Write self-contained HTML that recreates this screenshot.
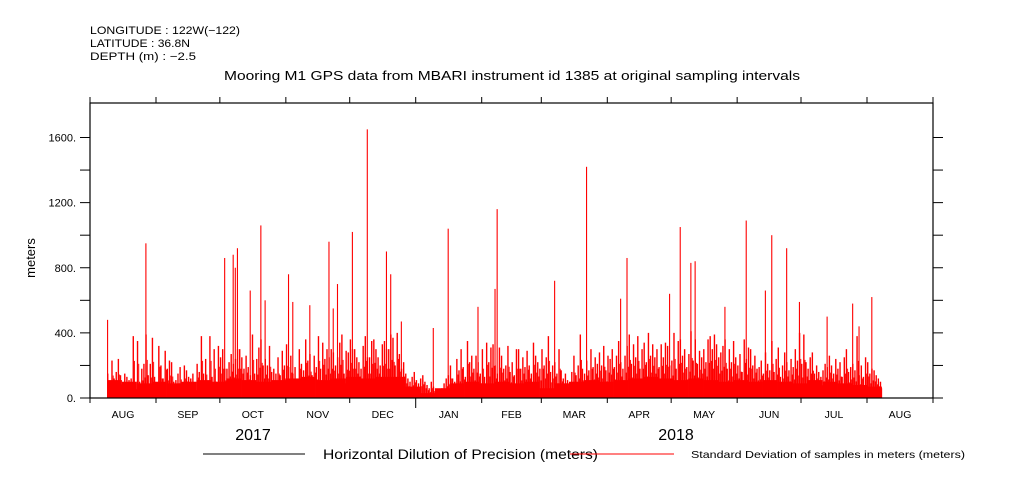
<!DOCTYPE html>
<html><head><meta charset="utf-8"><style>
html,body{margin:0;padding:0;background:#fff;}
svg{display:block;font-family:"Liberation Sans",sans-serif;}
</style></head><body>
<svg id="chart" width="1009" height="504" viewBox="0 0 1009 504">
<g font-size="11" fill="#000">
<text x="90" y="34" textLength="150" lengthAdjust="spacingAndGlyphs">LONGITUDE : 122W(−122)</text>
<text x="90" y="47" textLength="100" lengthAdjust="spacingAndGlyphs">LATITUDE : 36.8N</text>
<text x="90" y="60" textLength="106" lengthAdjust="spacingAndGlyphs">DEPTH (m) : −2.5</text>
</g>
<text x="224" y="80" textLength="576" lengthAdjust="spacingAndGlyphs" font-size="13">Mooring M1 GPS data from MBARI instrument id 1385 at original sampling intervals</text>
<text transform="translate(35,258) rotate(-90)" text-anchor="middle" font-size="13">meters</text>
<g id="marks"></g>
<g id="axes"></g>
<g>
<line x1="203" y1="454" x2="305" y2="454" stroke="#000" stroke-width="1"/>
<text x="323" y="459" font-size="13.5" textLength="275" lengthAdjust="spacingAndGlyphs">Horizontal Dilution of Precision (meters)</text>
<line x1="570" y1="454" x2="674" y2="454" stroke="#f00" stroke-width="1"/>
<text x="691" y="458" font-size="10.5" textLength="274" lengthAdjust="spacingAndGlyphs">Standard Deviation of samples in meters (meters)</text>
</g>
</svg>
<script>
const startDay = 8;
const baseValues = [
150,90,230,120,160,240,140,90,150,130,110,120,380,90,350,100,180,210,390,140,
210,370,130,60,320,200,120,290,180,230,220,100,110,150,190,90,200,170,130,120,
150,80,210,160,380,150,240,90,380,130,300,100,320,250,300,180,180,220,270,210,
240,300,300,250,180,260,190,140,390,150,240,310,360,200,240,200,320,160,180,150,
250,140,290,200,330,190,260,150,190,120,300,210,170,360,230,270,140,260,190,380,
180,340,240,300,250,300,280,200,250,340,390,150,290,280,360,300,300,250,220,180,
320,380,250,250,350,360,300,250,200,330,350,300,300,390,370,200,400,270,180,220,
150,120,100,130,160,110,90,120,140,100,80,60,100,70,40,50,30,60,90,120,
140,200,120,100,240,170,300,190,130,350,220,260,180,260,220,150,300,130,340,220,
310,330,200,150,310,260,180,200,320,160,220,140,300,300,180,250,190,290,200,150,
340,260,220,180,300,200,250,380,160,200,220,150,300,170,120,150,110,80,160,260,
140,200,390,180,150,230,170,300,190,250,210,280,200,320,170,260,240,300,190,260,
350,220,180,260,320,390,210,330,250,380,180,300,340,220,400,260,330,250,300,190,
330,250,340,320,200,230,400,180,350,360,260,300,190,270,410,230,360,210,290,250,
300,220,360,380,300,390,330,250,280,320,360,180,300,220,350,250,200,270,160,360,
240,310,300,200,260,180,190,230,150,280,210,170,350,160,240,310,130,200,280,220,
170,240,190,300,230,400,210,390,220,180,250,280,150,200,160,130,170,210,190,260,
200,150,240,180,220,130,250,300,160,190,210,170,380,140,200,130,250,220,150,180,
170,140,120,100];
const floorValues = [110,100,90,100,90,100,110,100,120,110,100,110,120,130,110,120,130,120,130,130,70,30,60,90,100,90,100,90,100,60,90,100,110,100,110,120,130,120,110,120,110,100,110,100,110,100,90,110,100,90,80,70];
const spikeDays = [8,26,63,67,68,69,75,80,82,93,95,103,112,114,116,123,130,139,141,146,161,168,182,190,191,218,233,249,252,272,277,282,284,298,308,317,320,327,333,346,358,361,367];
const spikeValues = [480,950,860,880,800,920,660,1060,600,760,590,570,960,550,700,1020,1650,900,760,470,430,1040,560,670,1160,720,1420,610,860,640,1050,830,840,560,1090,660,1000,920,590,500,580,440,620];
const yTicks = [0,200,400,600,800,1000,1200,1400,1600];
const yLabels = ["0.","","400.","","800.","","1200.","","1600."];
const monthNames = ["AUG","SEP","OCT","NOV","DEC","JAN","FEB","MAR","APR","MAY","JUN","JUL","AUG"];
const monthLengths = [31,30,31,30,31,31,28,31,30,31,30,31,31];
const yearLabels = ["2017","2018"];

const X0=90,X1=933,TOTAL=396,Y0=398,PPU=260.5/1600,YTOP=103;
const xs=d=>X0+d*(X1-X0)/TOTAL;
const ys=v=>Y0-v*PPU;
const NS="http://www.w3.org/2000/svg";
function mk(tag,attrs,parent){const e=document.createElementNS(NS,tag);for(const k in attrs)e.setAttribute(k,attrs[k]);parent.appendChild(e);return e;}
const marks=document.getElementById('marks'), axes=document.getElementById('axes');
const dw=(X1-X0)/TOTAL;
floorValues.forEach((v,i)=>{
  const d=startDay+i*7;
  const r=mk('rect',{x:xs(d),y:ys(v),width:dw*7,height:Y0-ys(v),fill:'#f00'},marks);
  
  
});
baseValues.forEach((v,i)=>{
  const d=startDay+i;
  const r=mk('rect',{x:xs(d),y:ys(v),width:1.4,height:Y0-ys(v),fill:'#f00'},marks);
  
  
  const r2=mk('rect',{x:xs(d+0.5)+0.4,y:ys(v*0.6),width:0.9,height:Y0-ys(v*0.6),fill:'#f00'},marks);
  
  
});
spikeDays.forEach((d,i)=>{
  const v=spikeValues[i];
  const r=mk('rect',{x:xs(d),y:ys(v),width:1.1,height:Y0-ys(v),fill:'#f00'},marks);
  
  
});
const fr=mk('rect',{x:X0,y:YTOP,width:X1-X0,height:Y0-YTOP,fill:'none',stroke:'#000','stroke-width':1.2},axes);


yTicks.forEach((t,i)=>{
  const y=ys(t);
  mk('line',{x1:X0-10,y1:y,x2:X0,y2:y,stroke:'#000'},axes);
  mk('line',{x1:X1,y1:y,x2:X1+10,y2:y,stroke:'#000'},axes);
  if(yLabels[i]){
    const tx=mk('text',{x:X0-14,y:y+4,'text-anchor':'end','font-size':11},axes);
    tx.textContent=yLabels[i];
    
    
  }
});
let d=0;
monthNames.forEach((m,i)=>{
  const x=xs(d);
  const isYear=(i===5);
  mk('line',{x1:x,y1:Y0,x2:x,y2:Y0+(isYear?10:5),stroke:'#000'},axes);
  mk('line',{x1:x,y1:YTOP-6,x2:x,y2:YTOP,stroke:'#000'},axes);
  const tx=mk('text',{x:xs(d+monthLengths[i]/2),y:418,'text-anchor':'middle','font-size':10.5},axes);
  tx.textContent=m;
  
  
  d+=monthLengths[i];
});
mk('line',{x1:X1,y1:Y0,x2:X1,y2:Y0+5,stroke:'#000'},axes);
mk('line',{x1:X1,y1:YTOP-6,x2:X1,y2:YTOP,stroke:'#000'},axes);
[253,676].forEach((x,i)=>{
  const tx=mk('text',{x:x,y:440,'text-anchor':'middle','font-size':16},axes);
  tx.textContent=yearLabels[i];
  
  
});
</script>
</body></html>
